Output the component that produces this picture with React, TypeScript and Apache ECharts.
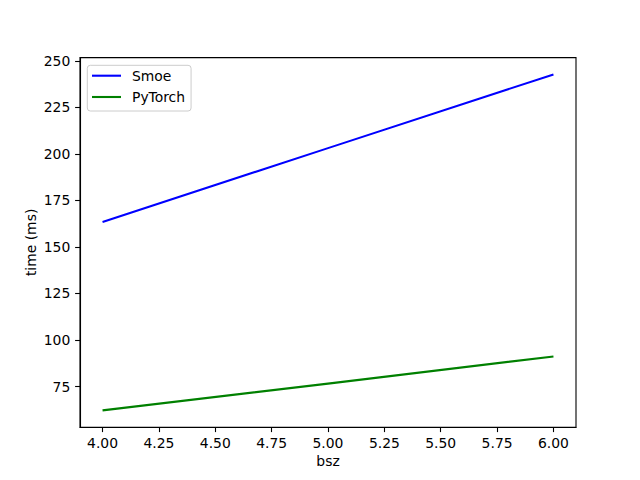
import React, { useEffect, useRef } from "react";
import * as echarts from "echarts";

const bsz = [4, 5, 6];
const smoe = [163.4, 203.1, 242.7];
const pytorch = [62.2, 76.6, 91.2];
const xTicks = [4.0, 4.25, 4.5, 4.75, 5.0, 5.25, 5.5, 5.75, 6.0];
const yTicks = [75, 100, 125, 150, 175, 200, 225, 250];

const FONT = "DejaVu Sans";
const FS = 13.9;

export default function App() {
  const ref = useRef<HTMLDivElement>(null);
  useEffect(() => {
    if (!ref.current) return;
    const chart = echarts.init(ref.current, undefined, { renderer: "svg" });
    const allY = [...smoe, ...pytorch];
    const yMinD = Math.min(...allY);
    const yMaxD = Math.max(...allY);
    const yPad = (yMaxD - yMinD) * 0.05;
    const xPad = (bsz[bsz.length - 1] - bsz[0]) * 0.05;
    chart.setOption({
      animation: false,
      backgroundColor: "#ffffff",
      textStyle: { fontFamily: FONT },
      grid: {
        left: 80,
        right: 64,
        top: 57.6,
        bottom: 52.8,
        show: true,
        borderColor: "#000000",
        borderWidth: 1.1,
        backgroundColor: "transparent",
      },
      legend: {
        orient: "vertical",
        left: 87.3,
        top: 65.3,
        icon: "rect",
        itemWidth: 29,
        itemHeight: 2.1,
        itemGap: 5.3,
        padding: [2.4, 6, 6, 4.7],
        backgroundColor: "rgba(255,255,255,0.8)",
        borderColor: "#cccccc",
        borderWidth: 1,
        borderRadius: 3,
        textStyle: {
          fontFamily: FONT,
          fontSize: FS,
          color: "#000000",
          lineHeight: 16,
          padding: [0, 0, 0, 6],
        },
        data: ["Smoe", "PyTorch"],
      },
      xAxis: {
        type: "value",
        min: bsz[0] - xPad,
        max: bsz[bsz.length - 1] + xPad,
        name: "bsz",
        nameLocation: "middle",
        nameGap: 27,
        nameMoveOverlap: false,
        nameTextStyle: { fontFamily: FONT, fontSize: FS, color: "#000" },
        axisLine: { show: true, lineStyle: { color: "#000", width: 1.1 } },
        axisTick: {
          show: true,
          length: 4.9,
          lineStyle: { color: "#000", width: 1.1 },
          customValues: xTicks,
        },
        axisLabel: {
          fontFamily: FONT,
          fontSize: FS,
          color: "#000",
          margin: 8.5,
          customValues: xTicks,
          formatter: (v: number) => v.toFixed(2),
        },
        splitLine: { show: false },
      },
      yAxis: {
        type: "value",
        min: yMinD - yPad,
        max: yMaxD + yPad,
        name: "time (ms)",
        nameLocation: "middle",
        nameGap: 42,
        nameMoveOverlap: false,
        nameTextStyle: { fontFamily: FONT, fontSize: FS, color: "#000" },
        axisLine: { show: true, lineStyle: { color: "#000", width: 1.1 } },
        axisTick: {
          show: true,
          length: 4.9,
          lineStyle: { color: "#000", width: 1.1 },
          customValues: yTicks,
        },
        axisLabel: {
          fontFamily: FONT,
          fontSize: FS,
          color: "#000",
          margin: 9.7,
          customValues: yTicks,
          formatter: (v: number) => String(Math.round(v)),
        },
        splitLine: { show: false },
      },
      series: [
        {
          name: "Smoe",
          type: "line",
          data: bsz.map((x, i) => [x, smoe[i]]),
          showSymbol: false,
          symbol: "none",
          lineStyle: { color: "#0000ff", width: 2.08 },
          itemStyle: { color: "#0000ff" },
        },
        {
          name: "PyTorch",
          type: "line",
          data: bsz.map((x, i) => [x, pytorch[i]]),
          showSymbol: false,
          symbol: "none",
          lineStyle: { color: "#008000", width: 2.08 },
          itemStyle: { color: "#008000" },
        },
      ],
    });
    return () => chart.dispose();
  }, []);
  return (
    <div
      ref={ref}
      style={{ position: "fixed", left: 0, top: 0, width: 640, height: 480 }}
    />
  );
}
